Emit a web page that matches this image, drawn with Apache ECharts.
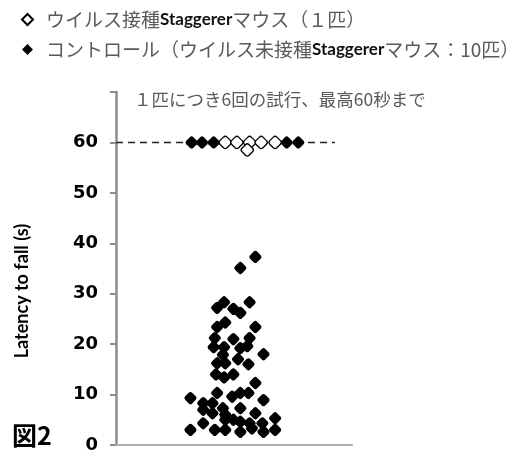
<!DOCTYPE html>
<html>
<head>
<meta charset="utf-8">
<script src="https://cdn.jsdelivr.net/npm/echarts@6/dist/echarts.min.js"></script>
<style>
  html, body { margin: 0; padding: 0; background: #fff; }
  #chart { width: 528px; height: 456px; }
</style>
</head>
<body>
<div id="chart"></div>
<script>
// Rotarod test: latency to fall (seconds), 6 trials per mouse, capped at 60 s.
const yTicks = [0, 10, 20, 30, 40, 50, 60];
const virusName = 'ウイルス接種Staggererマウス（１匹）';
const controlName = 'コントロール（ウイルス未接種Staggererマウス：10匹）';
const noteText = '１匹につき6回の試行、最高60秒まで';
const figureLabel = '図2';
const yAxisTitle = 'Latency to fall (s)';

// Control group (10 mice x 6 trials): latency and horizontal swarm slot
const controlLatency = [
  60, 60, 60, 60, 60,
  37.3, 35.1, 28.3, 28.3, 27.2, 27.0, 26.2, 24.3, 23.4, 23.4, 21.2, 21.0, 21.2,
  19.4, 19.4, 19.2, 19.6, 18.0, 17.9, 17.0, 16.2, 16.2, 16.0, 14.0, 13.4, 14.0,
  12.3,
  10.3, 10.3, 10.3, 9.6, 9.3, 8.9, 8.3, 8.3, 7.0, 7.3, 7.3, 6.3, 6.0, 6.3,
  5.0, 5.0, 4.6, 4.3, 4.3, 5.3, 4.3, 3.0, 3.0, 3.0, 2.6, 3.3, 2.6, 3.0
];
const controlJitter = [
  -4.0, -3.1, -2.1, 4.2, 5.2,
  1.5, 0.2, 1.0, -1.2, -1.8, -0.4, 0.2, -1.1, -1.8, 1.5, -2.0, -0.4, 1.0,
  -2.1, -1.2, 0.2, 0.8, 2.2, -1.3, 0.0, -1.8, -1.1, 0.9, -1.9, -1.2, -0.4,
  1.5,
  -1.8, 0.2, 0.9, -0.5, -4.1, 2.2, -3.0, -2.2, -3.0, -1.3, 0.2, -2.2, -1.1, 1.5,
  -1.1, -0.4, 0.2, 1.0, 2.1, 3.2, -3.0, -4.1, -2.0, -1.1, 0.2, 1.2, 2.2, 3.2
];

// Virus-inoculated mouse (1 mouse x 6 trials)
const virusLatency = [60, 60, 60, 60, 60, 58.5];
const virusJitter = [-1.1, -0.1, 1.0, 2.0, 3.2, 0.8];

// 60 s cutoff guide line
const cutoffLatency = 60;
const cutoffSpan = [-10.52, 8.36];

const pairs = (xs, ys) => xs.map((x, i) => [x, ys[i]]);
const diamondIcon = 'path://M5,0 L10,5 L5,10 L0,5 Z';

const chart = echarts.init(document.getElementById('chart'), null, { renderer: 'canvas' });

const axisGray = '#8c8c8c';
const textGray = '#5a5a5a';

chart.setOption({
  animation: false,
  backgroundColor: '#fff',
  grid: { left: 116, right: 176, top: 92, bottom: 11 },
  title: [
    {
      text: noteText, left: 134, top: 91, padding: 0,
      textStyle: { fontFamily: 'Noto Sans CJK JP', fontSize: 17.5, fontWeight: 'normal', color: textGray }
    },
    {
      text: figureLabel, left: 12, top: 423, padding: 0,
      textStyle: { fontFamily: 'Noto Sans CJK JP', fontSize: 25, fontWeight: 'bold', color: '#000' }
    }
  ],
  legend: {
    orient: 'vertical',
    left: 16, top: 5,
    itemWidth: 11, itemHeight: 11, itemGap: 11,
    selectedMode: false,
    data: [
      { name: virusName, icon: diamondIcon },
      { name: controlName, icon: diamondIcon }
    ],
    formatter: n => n.replace('Staggerer', '{b|Staggerer}'),
    textStyle: {
      fontFamily: 'Noto Sans CJK JP', fontSize: 19, color: textGray,
      padding: [0, 0, 0, 8],
      rich: { b: { fontFamily: 'Lato', fontWeight: 'bold', fontSize: 17, color: '#111' } }
    }
  },
  xAxis: {
    type: 'value', min: -10.52, max: 9.83,
    axisLine: { onZero: false, lineStyle: { color: '#b0b0b0', width: 2 } },
    axisTick: { show: false }, axisLabel: { show: false }, splitLine: { show: false }
  },
  yAxis: {
    type: 'value', min: 0, max: 70, interval: 10,
    axisLine: { show: true, onZero: false, lineStyle: { color: axisGray, width: 2.5 } },
    axisTick: { show: true, inside: false, length: 6, lineStyle: { color: axisGray, width: 2 } },
    axisLabel: {
      margin: 18,
      fontFamily: 'DejaVu Sans', fontWeight: 'bold', fontSize: 18, color: '#000',
      formatter: v => (yTicks.includes(v) ? String(v) : '')
    },
    splitLine: { show: false }
  },
  graphic: [
    {
      type: 'text', x: 22, y: 291, rotation: Math.PI / 2,
      style: {
        text: yAxisTitle, fontFamily: 'Lato', fontWeight: 'bold', fontSize: 18,
        fill: '#000', align: 'center', verticalAlign: 'middle'
      }
    }
  ],
  series: [
    {
      type: 'line', name: 'cutoff', silent: true, z: 1,
      data: cutoffSpan.map(x => [x, cutoffLatency]),
      symbol: 'none',
      lineStyle: { color: '#222', width: 1.5, type: [7, 5] }
    },
    {
      type: 'scatter', name: controlName, z: 3,
      data: pairs(controlJitter, controlLatency),
      symbol: 'roundRect', symbolSize: 10, symbolRotate: 45,
      itemStyle: { color: '#000', opacity: 1 }
    },
    {
      type: 'scatter', name: virusName, z: 4,
      data: pairs(virusJitter, virusLatency),
      symbol: 'roundRect', symbolSize: 10, symbolRotate: 45,
      itemStyle: { color: '#fff', borderColor: '#000', borderWidth: 1.3, opacity: 1 }
    }
  ]
});
</script>
</body>
</html>
